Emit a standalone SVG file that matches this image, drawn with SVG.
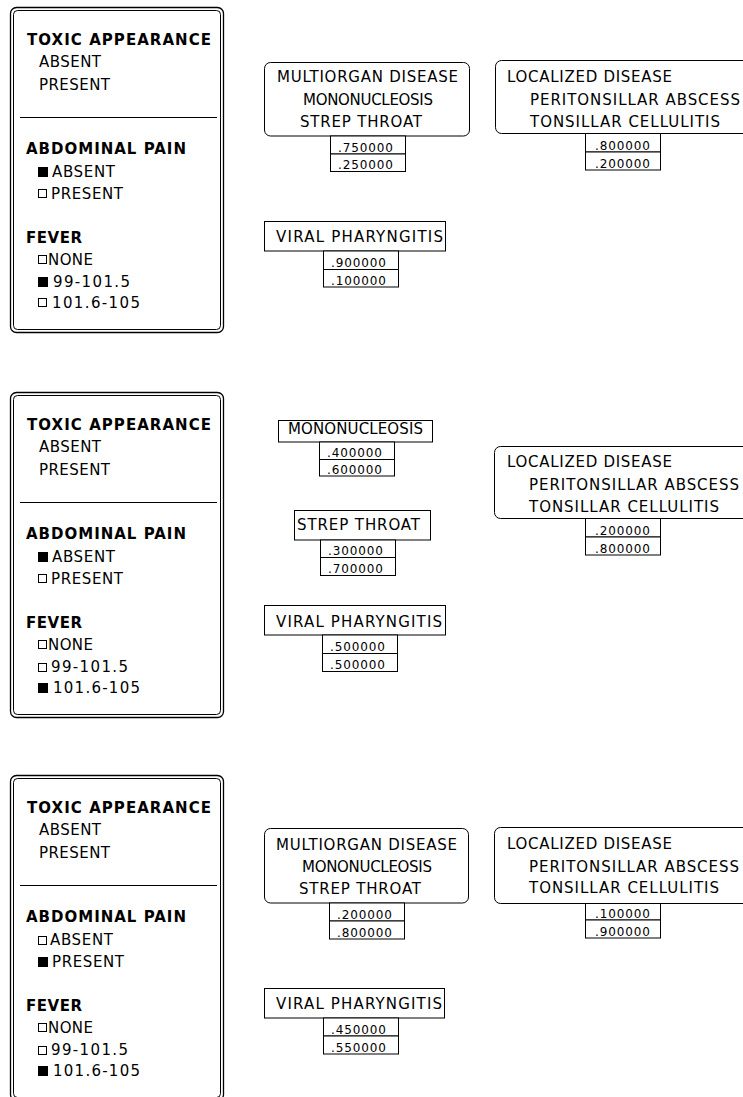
<svg xmlns="http://www.w3.org/2000/svg" width="743" height="1097" viewBox="0 0 743 1097">
<style>
text{font-family:"DejaVu Sans","Liberation Sans",sans-serif;fill:#000}
.b{font-size:15px;font-weight:bold}
.t{font-size:15px}
.n{font-size:12px}
.box{fill:#fff;stroke:#000;stroke-width:1}
.o{fill:none;stroke:#000;stroke-width:1.3}
.i{fill:none;stroke:#000;stroke-width:1}
.on{fill:#000}
.off{fill:#fff;stroke:#000;stroke-width:1}
.ln{stroke:#000;stroke-width:1}
</style>
<rect width="743" height="1097" fill="#fff"/>

<!-- Panel 1 inputs -->
<g id="inputs1">
<rect class="o" x="10.5" y="7.5" width="213" height="325" rx="6"/>
<rect class="i" x="13.5" y="10.5" width="207" height="319" rx="4"/>
<text class="b" x="27" y="45" textLength="184">TOXIC APPEARANCE</text>
<text class="t" x="39" y="67" textLength="62">ABSENT</text>
<text class="t" x="39" y="89.5" textLength="71">PRESENT</text>
<line class="ln" x1="20" y1="117.5" x2="217" y2="117.5"/>
<text class="b" x="26" y="154" textLength="160">ABDOMINAL PAIN</text>
<rect class="on" x="38" y="167" width="10" height="10"/><text class="t" x="52" y="177" textLength="63">ABSENT</text>
<rect class="off" x="38.5" y="189.5" width="8" height="8"/><text class="t" x="51" y="199" textLength="72">PRESENT</text>
<text class="b" x="26" y="243" textLength="56">FEVER</text>
<rect class="off" x="38.5" y="255.5" width="8" height="8"/><text class="t" x="48" y="265" textLength="45">NONE</text>
<rect class="on" x="38" y="277" width="10" height="10"/><text class="t" x="53" y="287" textLength="77">99-101.5</text>
<rect class="off" x="38.5" y="298.5" width="8" height="8"/><text class="t" x="52" y="308" textLength="88">101.6-105</text>
</g>

<g id="multiorgan1">
<rect class="box" x="264.5" y="62.5" width="205" height="73.5" rx="6"/>
<text class="t" x="277" y="82" textLength="181">MULTIORGAN DISEASE</text>
<text class="t" x="303" y="105" textLength="130">MONONUCLEOSIS</text>
<text class="t" x="300" y="127" textLength="122">STREP THROAT</text>
<rect class="box" x="330.5" y="136" width="75" height="18"/>
<rect class="box" x="330.5" y="154" width="75" height="17.5"/>
<text class="n" x="338" y="151.5" textLength="55">.750000</text>
<text class="n" x="338" y="169" textLength="55">.250000</text>
</g>

<g id="localized1">
<rect class="box" x="495.5" y="60.5" width="265" height="73" rx="6"/>
<text class="t" x="507" y="82" textLength="165">LOCALIZED DISEASE</text>
<text class="t" x="530" y="105" textLength="210">PERITONSILLAR ABSCESS</text>
<text class="t" x="530" y="127" textLength="190">TONSILLAR CELLULITIS</text>
<rect class="box" x="585.5" y="133.5" width="75" height="18.5"/>
<rect class="box" x="585.5" y="152" width="75" height="18"/>
<text class="n" x="595" y="149.5" textLength="55">.800000</text>
<text class="n" x="595" y="167.5" textLength="55">.200000</text>
</g>

<g id="viral1">
<rect class="box" x="264.5" y="221.5" width="181" height="29.5"/>
<text class="t" x="276" y="242" textLength="167">VIRAL PHARYNGITIS</text>
<rect class="box" x="323.5" y="251" width="75" height="18.5"/>
<rect class="box" x="323.5" y="269.5" width="75" height="17.5"/>
<text class="n" x="331" y="267" textLength="55">.900000</text>
<text class="n" x="331" y="284.5" textLength="55">.100000</text>
</g>

<!-- Panel 2 inputs -->
<g id="inputs2" transform="translate(0,385)">
<rect class="o" x="10.5" y="7.5" width="213" height="325" rx="6"/>
<rect class="i" x="13.5" y="10.5" width="207" height="319" rx="4"/>
<text class="b" x="27" y="45" textLength="184">TOXIC APPEARANCE</text>
<text class="t" x="39" y="67" textLength="62">ABSENT</text>
<text class="t" x="39" y="89.5" textLength="71">PRESENT</text>
<line class="ln" x1="20" y1="117.5" x2="217" y2="117.5"/>
<text class="b" x="26" y="154" textLength="160">ABDOMINAL PAIN</text>
<rect class="on" x="38" y="167" width="10" height="10"/><text class="t" x="52" y="177" textLength="63">ABSENT</text>
<rect class="off" x="38.5" y="189.5" width="8" height="8"/><text class="t" x="51" y="199" textLength="72">PRESENT</text>
<text class="b" x="26" y="243" textLength="56">FEVER</text>
<rect class="off" x="38.5" y="255.5" width="8" height="8"/><text class="t" x="48" y="265" textLength="45">NONE</text>
<rect class="off" x="38.5" y="278.5" width="8" height="8"/><text class="t" x="51" y="287" textLength="77">99-101.5</text>
<rect class="on" x="38" y="298" width="10" height="10"/><text class="t" x="53" y="308" textLength="87">101.6-105</text>
</g>

<g id="mono2">
<rect class="box" x="278.5" y="420.5" width="154" height="21.5"/>
<text class="t" x="288" y="434" textLength="135">MONONUCLEOSIS</text>
<rect class="box" x="319.5" y="442" width="75" height="17.5"/>
<rect class="box" x="319.5" y="459.5" width="75" height="16.5"/>
<text class="n" x="327" y="457" textLength="55">.400000</text>
<text class="n" x="327" y="473.5" textLength="55">.600000</text>
</g>

<g id="strep2">
<rect class="box" x="294.5" y="510.5" width="136" height="29.5"/>
<text class="t" x="297" y="530" textLength="123">STREP THROAT</text>
<rect class="box" x="320.5" y="540" width="75" height="17.5"/>
<rect class="box" x="320.5" y="557.5" width="75" height="18"/>
<text class="n" x="328" y="555" textLength="55">.300000</text>
<text class="n" x="328" y="573" textLength="55">.700000</text>
</g>

<g id="viral2">
<rect class="box" x="264.5" y="605.5" width="181" height="29.5"/>
<text class="t" x="276" y="626.5" textLength="166">VIRAL PHARYNGITIS</text>
<rect class="box" x="322.5" y="635" width="75" height="18.5"/>
<rect class="box" x="322.5" y="653.5" width="75" height="18"/>
<text class="n" x="330" y="651" textLength="55">.500000</text>
<text class="n" x="330" y="669" textLength="55">.500000</text>
</g>

<g id="localized2">
<rect class="box" x="494.5" y="446.5" width="266" height="72" rx="6"/>
<text class="t" x="507" y="466.5" textLength="165">LOCALIZED DISEASE</text>
<text class="t" x="529" y="490" textLength="210">PERITONSILLAR ABSCESS</text>
<text class="t" x="529" y="511.5" textLength="190">TONSILLAR CELLULITIS</text>
<rect class="box" x="585.5" y="518.5" width="75" height="18.5"/>
<rect class="box" x="585.5" y="537" width="75" height="18"/>
<text class="n" x="595" y="534.5" textLength="55">.200000</text>
<text class="n" x="595" y="552.5" textLength="55">.800000</text>
</g>

<!-- Panel 3 inputs -->
<g id="inputs3" transform="translate(0,768)">
<rect class="o" x="10.5" y="7.5" width="213" height="325" rx="6"/>
<rect class="i" x="13.5" y="10.5" width="207" height="319" rx="4"/>
<text class="b" x="27" y="45" textLength="184">TOXIC APPEARANCE</text>
<text class="t" x="39" y="67" textLength="62">ABSENT</text>
<text class="t" x="39" y="89.5" textLength="71">PRESENT</text>
<line class="ln" x1="20" y1="117.5" x2="217" y2="117.5"/>
<text class="b" x="26" y="154" textLength="160">ABDOMINAL PAIN</text>
<rect class="off" x="38.5" y="168.5" width="8" height="8"/><text class="t" x="50" y="177" textLength="63">ABSENT</text>
<rect class="on" x="38" y="189" width="10" height="10"/><text class="t" x="52" y="199" textLength="72">PRESENT</text>
<text class="b" x="26" y="243" textLength="56">FEVER</text>
<rect class="off" x="38.5" y="255.5" width="8" height="8"/><text class="t" x="48" y="265" textLength="45">NONE</text>
<rect class="off" x="38.5" y="278.5" width="8" height="8"/><text class="t" x="51" y="287" textLength="77">99-101.5</text>
<rect class="on" x="38" y="298" width="10" height="10"/><text class="t" x="53" y="308" textLength="87">101.6-105</text>
</g>

<g id="multiorgan3">
<rect class="box" x="264.5" y="828.5" width="204" height="74.5" rx="6"/>
<text class="t" x="276" y="850" textLength="181">MULTIORGAN DISEASE</text>
<text class="t" x="302" y="872" textLength="130">MONONUCLEOSIS</text>
<text class="t" x="299" y="894" textLength="122">STREP THROAT</text>
<rect class="box" x="329.5" y="903" width="75" height="18"/>
<rect class="box" x="329.5" y="921" width="75" height="18"/>
<text class="n" x="337" y="918.5" textLength="55">.200000</text>
<text class="n" x="337" y="936.5" textLength="55">.800000</text>
</g>

<g id="localized3">
<rect class="box" x="494.5" y="827.5" width="266" height="76" rx="6"/>
<text class="t" x="507" y="849" textLength="165">LOCALIZED DISEASE</text>
<text class="t" x="529" y="871.5" textLength="210">PERITONSILLAR ABSCESS</text>
<text class="t" x="529" y="893" textLength="190">TONSILLAR CELLULITIS</text>
<rect class="box" x="585.5" y="903.5" width="75" height="16.5"/>
<rect class="box" x="585.5" y="920" width="75" height="18"/>
<text class="n" x="595" y="918" textLength="55">.100000</text>
<text class="n" x="595" y="935.5" textLength="55">.900000</text>
</g>

<g id="viral3">
<rect class="box" x="264.5" y="988.5" width="180" height="29.5"/>
<text class="t" x="276" y="1009" textLength="166">VIRAL PHARYNGITIS</text>
<rect class="box" x="323.5" y="1018" width="75" height="18"/>
<rect class="box" x="323.5" y="1036" width="75" height="18"/>
<text class="n" x="331" y="1033.5" textLength="55">.450000</text>
<text class="n" x="331" y="1051.5" textLength="55">.550000</text>
</g>

<g id="connectors"></g>
</svg>
